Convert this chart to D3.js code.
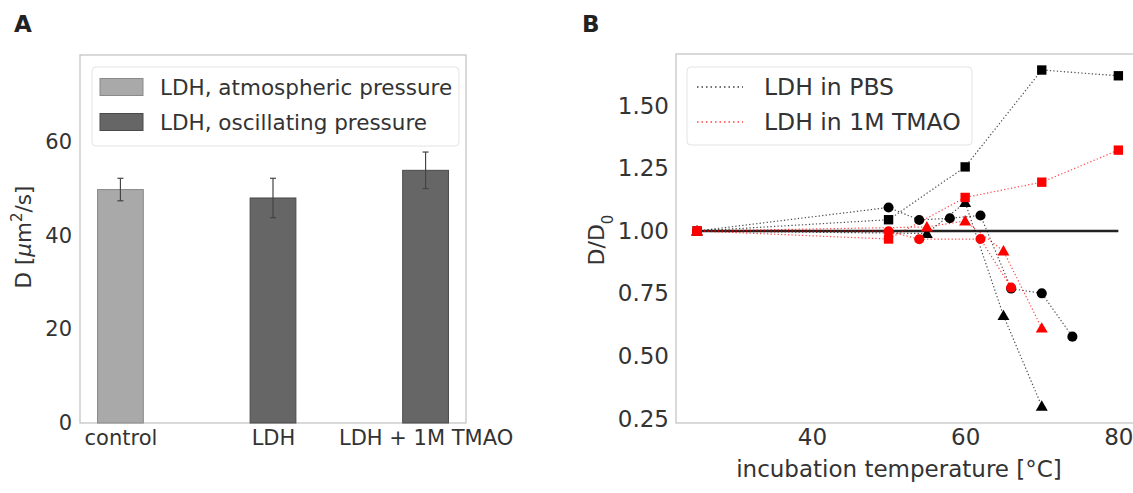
<!DOCTYPE html>
<html>
<head>
<meta charset="utf-8">
<script src="https://cdn.jsdelivr.net/npm/d3@7"></script>
<style>
  body { margin: 0; background: #fff; }
  svg { font-family: "DejaVu Sans", sans-serif; }
</style>
</head>
<body>
<div id="chart"></div>
<script>
// Panel A: diffusion coefficients
const categories = ["control", "LDH", "LDH + 1M TMAO"];
const barValues = [49.8, 48.0, 53.9];
const barErrors = [2.4, 4.2, 3.9];
const barGroups = ["atm", "osc", "osc"];
const barLegend = ["LDH, atmospheric pressure", "LDH, oscillating pressure"];
const yTicksA = [0, 20, 40, 60];

// Panel B: D/D0 vs incubation temperature
const pbsSquareT = [25, 50, 60, 70, 80];
const pbsSquareD = [1.0, 1.045, 1.256, 1.643, 1.62];
const pbsCircleT = [25, 50, 54, 58, 62, 66, 70, 74];
const pbsCircleD = [1.0, 1.094, 1.044, 1.051, 1.062, 0.77, 0.751, 0.578];
const pbsTriT = [25, 55, 60, 65, 70];
const pbsTriD = [1.0, 0.99, 1.114, 0.662, 0.30];

const tmaoSquareT = [25, 50, 60, 70, 80];
const tmaoSquareD = [1.0, 0.968, 1.134, 1.195, 1.323];
const tmaoCircleT = [25, 50, 54, 62, 66];
const tmaoCircleD = [1.0, 0.999, 0.967, 0.968, 0.774];
const tmaoTriT = [25, 55, 60, 65, 70];
const tmaoTriD = [1.0, 1.016, 1.04, 0.92, 0.612];

const lineLegend = ["LDH in PBS", "LDH in 1M TMAO"];
const xTicksB = [40, 60, 80];
const yTicksB = [0.25, 0.50, 0.75, 1.00, 1.25, 1.50];
const refLine = {t: [25, 80], d: 1.0};

const svg = d3.select("#chart").append("svg")
    .attr("width", 1133).attr("height", 493);

const textCol = "#333";

// ---------------- Panel A ----------------
(function () {
    const L = 80, R = 466, T = 55, B = 423, fs = 21;
    const x = d3.scaleLinear().domain([-0.265, 2.265]).range([L, R]);
    const y = d3.scaleLinear().domain([0, 78.5]).range([B, T]);
    const g = svg.append("g");
    const fill = {atm: "#a9a9a9", osc: "#666666"};
    const edge = {atm: "#8a8a8a", osc: "#4a4a4a"};
    const bw = 0.3;

    g.append("rect").attr("x", L).attr("y", T).attr("width", R - L).attr("height", B - T)
        .attr("fill", "none").attr("stroke", "#c0c0c0").attr("stroke-width", 1.2);

    g.selectAll("rect.bar").data(barValues).join("rect").attr("class", "bar")
        .attr("x", (d, i) => x(i - bw / 2))
        .attr("width", (d, i) => x(i + bw / 2) - x(i - bw / 2))
        .attr("y", d => y(d)).attr("height", d => y(0) - y(d))
        .attr("fill", (d, i) => fill[barGroups[i]])
        .attr("stroke", (d, i) => edge[barGroups[i]]).attr("stroke-width", 1);

    // error bars
    barValues.forEach((v, i) => {
        const e = barErrors[i], cx = x(i);
        g.append("line").attr("x1", cx).attr("x2", cx).attr("y1", y(v - e)).attr("y2", y(v + e))
            .attr("stroke", "#444").attr("stroke-width", 1.2);
        [v - e, v + e].forEach(yy => g.append("line")
            .attr("x1", cx - 3).attr("x2", cx + 3).attr("y1", y(yy)).attr("y2", y(yy))
            .attr("stroke", "#444").attr("stroke-width", 1.2));
    });

    const ya = g.append("g").attr("transform", `translate(${L},0)`)
        .call(d3.axisLeft(y).tickValues(yTicksA).tickSize(0).tickPadding(8));
    ya.select(".domain").remove();
    ya.selectAll("text").attr("font-size", fs).attr("fill", textCol).attr("font-family", "DejaVu Sans");

    const xa = g.append("g").attr("transform", `translate(0,${B})`)
        .call(d3.axisBottom(x).tickValues([0, 1, 2]).tickFormat(i => categories[i]).tickSize(0).tickPadding(7));
    xa.select(".domain").remove();
    xa.selectAll("text").attr("font-size", fs).attr("fill", textCol).attr("font-family", "DejaVu Sans");

    g.append("text").attr("transform", `translate(31,${(T + B) / 2 - 2}) rotate(-90)`)
        .attr("text-anchor", "middle").attr("font-size", 21.5).attr("fill", textCol)
        .html('D [<tspan font-style="italic">μ</tspan>m<tspan baseline-shift="super" font-size="15">2</tspan>/s]');

    // legend
    g.append("rect").attr("x", 92).attr("y", 67).attr("width", 367).attr("height", 79).attr("rx", 4)
        .attr("fill", "#fff").attr("fill-opacity", 0.8).attr("stroke", "#e3e3e3");
    barLegend.forEach((t, i) => {
        const k = i === 0 ? "atm" : "osc";
        const cy = 87 + i * 35;
        g.append("rect").attr("x", 100).attr("y", cy - 8.5).attr("width", 43).attr("height", 17)
            .attr("fill", fill[k]).attr("stroke", edge[k]);
        g.append("text").attr("x", 160).attr("y", cy + 8).attr("font-size", 21.5)
            .attr("fill", textCol).text(t);
    });

    svg.append("text").attr("x", 14).attr("y", 32).attr("font-size", 23).attr("font-weight", "bold")
        .attr("fill", "#222").text("A");
})();

// ---------------- Panel B ----------------
(function () {
    const L = 676, T = 54, B = 423, fs = 23;
    const x = d3.scaleLinear().domain([22.25, 82.75]).range([L, L + 60.5 * 7.66]);
    const y = d3.scaleLinear().domain([0.233, 1.707]).range([B, T]);
    const g = svg.append("g");

    g.append("rect").attr("x", L).attr("y", T).attr("width", 60.5 * 7.66).attr("height", B - T)
        .attr("fill", "none").attr("stroke", "#c0c0c0").attr("stroke-width", 1.2);

    // reference line at D/D0 = 1
    g.append("line").attr("x1", x(refLine.t[0])).attr("x2", x(refLine.t[1]))
        .attr("y1", y(refLine.d)).attr("y2", y(refLine.d))
        .attr("stroke", "#222").attr("stroke-width", 2.4);

    const series = [
        {t: pbsSquareT, d: pbsSquareD, shape: d3.symbolSquare, c: "#000"},
        {t: pbsCircleT, d: pbsCircleD, shape: d3.symbolCircle, c: "#000"},
        {t: pbsTriT, d: pbsTriD, shape: d3.symbolTriangle, c: "#000"},
        {t: tmaoSquareT, d: tmaoSquareD, shape: d3.symbolSquare, c: "#ff0000"},
        {t: tmaoCircleT, d: tmaoCircleD, shape: d3.symbolCircle, c: "#ff0000"},
        {t: tmaoTriT, d: tmaoTriD, shape: d3.symbolTriangle, c: "#ff0000"}
    ];
    const line = d3.line().x(p => x(p[0])).y(p => y(p[1]));
    const sizes = new Map([[d3.symbolSquare, 88], [d3.symbolCircle, 80], [d3.symbolTriangle, 62]]);

    series.forEach(s => {
        const pts = s.t.map((t, i) => [t, s.d[i]]);
        g.append("path").attr("d", line(pts)).attr("fill", "none")
            .attr("stroke", s.c).attr("stroke-opacity", 0.7).attr("stroke-width", 1.2)
            .attr("stroke-dasharray", "1.3 2.2");
    });
    series.forEach(s => {
        const sym = d3.symbol().type(s.shape).size(sizes.get(s.shape));
        s.t.forEach((t, i) => {
            g.append("path").attr("d", sym())
                .attr("transform", `translate(${x(t)},${y(s.d[i]) + (s.shape === d3.symbolTriangle ? 1 : 0)})`)
                .attr("fill", s.c);
        });
    });

    const ya = g.append("g").attr("transform", `translate(${L},0)`)
        .call(d3.axisLeft(y).tickValues(yTicksB).tickFormat(d3.format(".2f")).tickSize(0).tickPadding(7));
    ya.select(".domain").remove();
    ya.selectAll("text").attr("font-size", fs).attr("fill", textCol).attr("font-family", "DejaVu Sans");

    const xa = g.append("g").attr("transform", `translate(0,${B})`)
        .call(d3.axisBottom(x).tickValues(xTicksB).tickSize(0).tickPadding(6));
    xa.select(".domain").remove();
    xa.selectAll("text").attr("font-size", fs).attr("fill", textCol).attr("font-family", "DejaVu Sans");

    g.append("text").attr("x", 899).attr("y", 477).attr("text-anchor", "middle")
        .attr("font-size", fs).attr("fill", textCol).text("incubation temperature [°C]");

    g.append("text").attr("transform", `translate(604,${240}) rotate(-90)`)
        .attr("text-anchor", "middle").attr("font-size", 22).attr("fill", textCol)
        .html('D/D<tspan baseline-shift="sub" font-size="15">0</tspan>');

    // legend
    g.append("rect").attr("x", 687).attr("y", 67).attr("width", 285).attr("height", 78).attr("rx", 4)
        .attr("fill", "#fff").attr("fill-opacity", 0.8).attr("stroke", "#e3e3e3");
    lineLegend.forEach((t, i) => {
        const cy = 87 + i * 35;
        g.append("line").attr("x1", 697).attr("x2", 743).attr("y1", cy).attr("y2", cy)
            .attr("stroke", i === 0 ? "#000" : "#ff0000").attr("stroke-opacity", 0.75)
            .attr("stroke-width", 1.5).attr("stroke-dasharray", "1.5 3");
        g.append("text").attr("x", 764).attr("y", cy + 8).attr("font-size", 23.5)
            .attr("fill", textCol).text(t);
    });

    svg.append("text").attr("x", 582).attr("y", 32).attr("font-size", 23).attr("font-weight", "bold")
        .attr("fill", "#222").text("B");
})();
</script>
</body>
</html>
